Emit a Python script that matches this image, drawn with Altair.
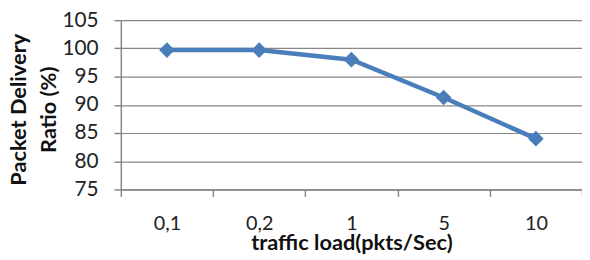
import altair as alt
import pandas as pd

loads = ["0,1", "0,2", "1", "5", "10"]
pdr = [99.7, 99.7, 98.0, 91.3, 84.0]

df = pd.DataFrame({"load": loads, "pdr": pdr})

FONT = "Lato"
BLUE = "#4A7EBB"
GRID = "#878787"

x = alt.X("load:N", sort=loads, title="traffic load(pkts/Sec)",
          scale=alt.Scale(paddingInner=0, paddingOuter=0),
          axis=alt.Axis(labelAngle=0, labelFontSize=20, labelFont=FONT, labelColor="#222222",
                        titleFont=FONT, titleFontSize=22, titleFontWeight="bold", titleColor="#111111",
                        tickBand="extent", tickSize=7, tickColor=GRID, domainColor=GRID,
                        domainWidth=1.5, tickWidth=1.5, labelPadding=17, titlePadding=0, grid=False))
y = alt.Y("pdr:Q", title=["Packet Delivery", "Ratio (%)"],
          scale=alt.Scale(domain=[75, 105], nice=False, zero=False),
          axis=alt.Axis(values=[75, 80, 85, 90, 95, 100, 105], labelFontSize=21, labelFont=FONT,
                        labelColor="#222222", titleFont=FONT, titleFontSize=22, titleFontWeight="bold",
                        titleColor="#111111", tickSize=7, tickColor=GRID, domainColor=GRID,
                        domainWidth=1.5, tickWidth=1.5, gridColor=GRID, gridWidth=1.2,
                        labelPadding=16, titleLineHeight=30, titleX=-91, titleY=90,
                        titleBaseline="bottom"))

line = alt.Chart(df).mark_line(color=BLUE, strokeWidth=4.5).encode(x=x, y=y)
pts = alt.Chart(df).mark_point(shape="diamond", filled=True, color=BLUE, size=250, opacity=1).encode(x=x, y=y)

chart = alt.layer(line, pts).properties(
    width=466, height=171,
    autosize=alt.AutoSizeParams(type="none"),
    padding={"left": 114, "top": 11, "right": 0, "bottom": 70},
).configure_view(stroke=None)

chart.save("out.html", embed_options={"renderer": "svg", "actions": False})
